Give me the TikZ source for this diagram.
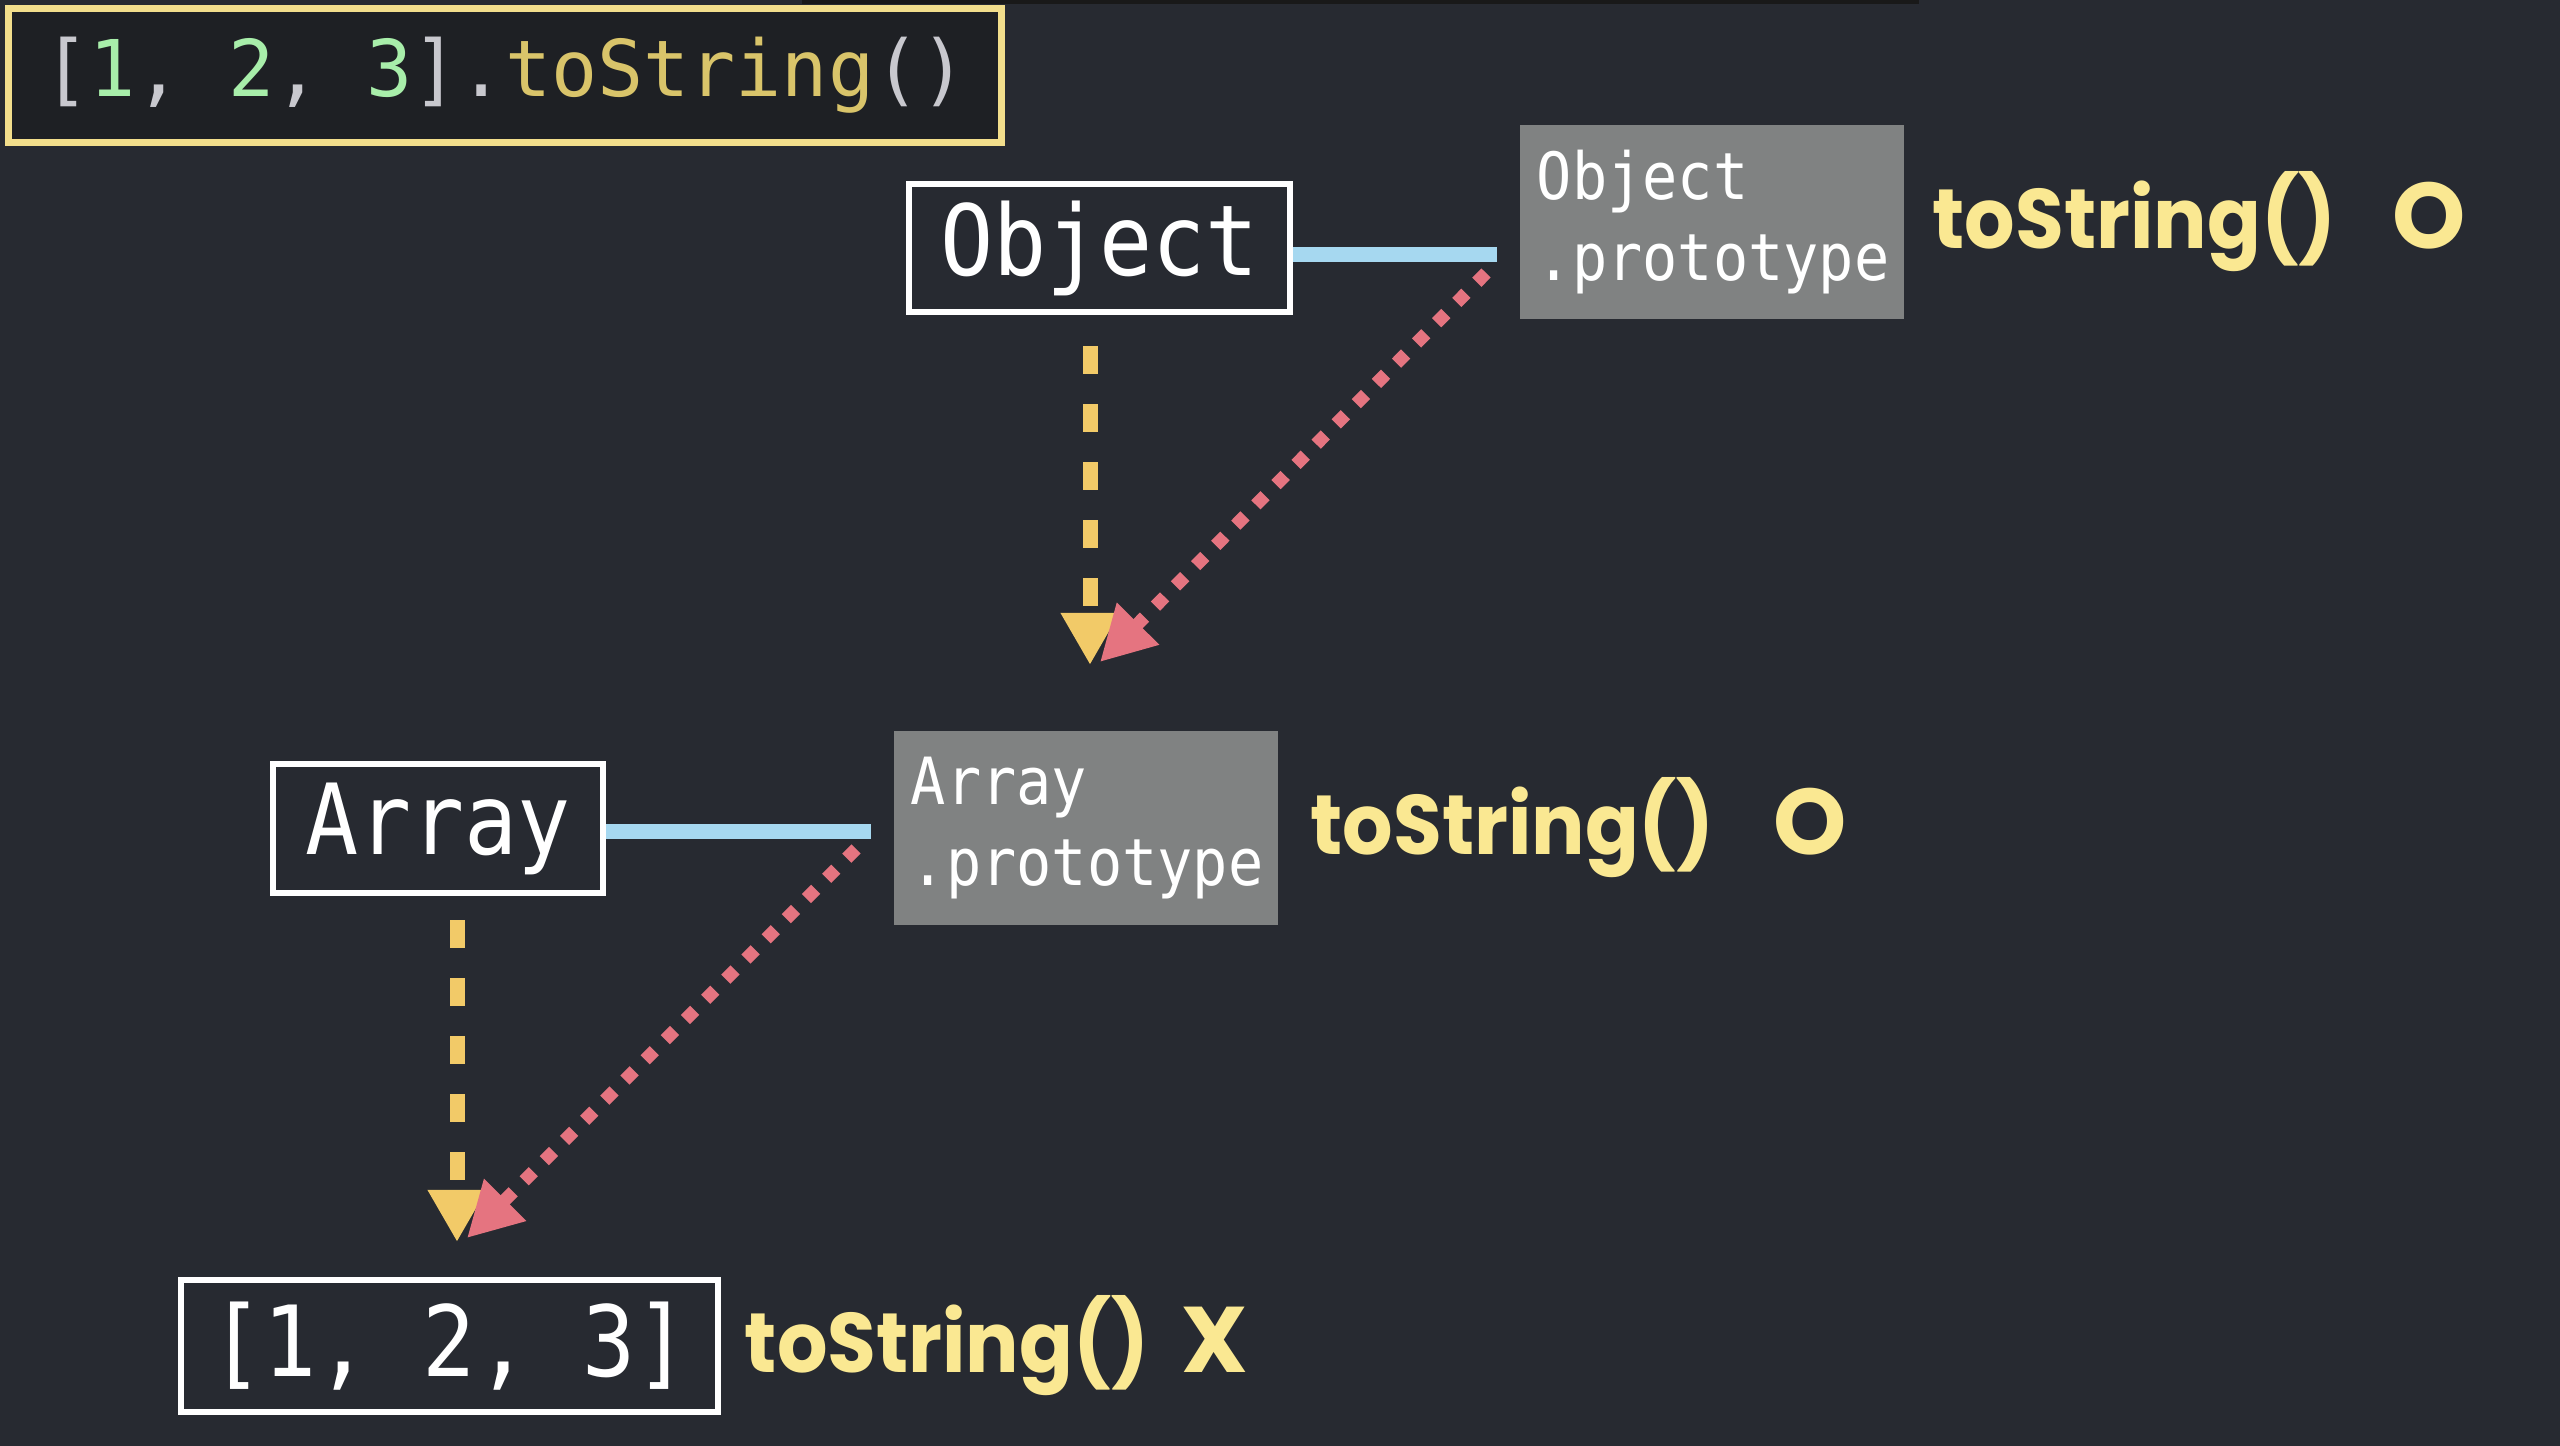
\documentclass[tikz,border=0pt]{standalone}
\usepackage{fontspec}
\newfontfamily\methfont[FakeStretch=0.94]{Poppins}
\newfontfamily\verdictfont{Poppins}
\newfontfamily\codefont[FakeStretch=0.98]{DejaVu Sans Mono}
\newfontfamily\boxfont[FakeStretch=0.9]{DejaVu Sans Mono}
\usetikzlibrary{arrows.meta, calc, positioning}
\definecolor{bgcol}{RGB}{39,42,49}
\definecolor{codebg}{RGB}{30,32,36}
\definecolor{codeframe}{RGB}{242,222,140}
\definecolor{codegray}{RGB}{200,200,206}
\definecolor{codegreen}{RGB}{168,238,170}
\definecolor{codetan}{RGB}{217,196,106}
\definecolor{protogray}{RGB}{128,130,130}
\definecolor{linkblue}{RGB}{166,216,240}
\definecolor{arrowyellow}{RGB}{242,202,104}
\definecolor{lookupred}{RGB}{229,116,128}
\definecolor{methyellow}{RGB}{250,232,146}
\tikzset{
  ctorbox/.style={draw=white, line width=0.06cm, fill=bgcol, text=white, inner sep=0,
    font=\boxfont\fontsize{27.9}{30}\selectfont},
  protobox/.style={fill=protogray, text=white, align=left, text width=3.5cm,
    inner xsep=0.17cm, inner ysep=0, minimum height=1.93cm,
    font=\boxfont\fontsize{18.5}{22.8}\selectfont},
  method/.style={text=methyellow, inner sep=0, font=\methfont\bfseries\fontsize{24}{28}\selectfont},
  verdict/.style={text=methyellow, inner sep=0, font=\verdictfont\bfseries\fontsize{26.5}{28}\selectfont},
  link/.style={linkblue, line width=0.15cm, shorten >=0.22cm},
  inherit/.style={-{Triangle[length=0.52cm, width=0.55cm]}, arrowyellow, line width=0.15cm,
    dash pattern=on 0.28cm off 0.30cm},
  lookup/.style={-{Triangle[length=0.54cm, width=0.56cm]}, lookupred, line width=0.13cm,
    dash pattern=on 0.13cm off 0.155cm}
}

\begin{document}
\begin{tikzpicture}[x=0.01cm, y=-0.01cm]
  \fill[bgcol] (0,0) rectangle (2560,1446);
  \useasboundingbox (0,0) rectangle (2560,1446);
  \fill[black!90] (802,0) rectangle (1919,4);

  % the call
  \node[draw=codeframe, line width=0.07cm, fill=codebg, minimum width=9.93cm, minimum height=1.34cm,
    font=\codefont\fontsize{22.25}{26}\selectfont] (call) at (505,75.5)
    {\color{codegray}[\color{codegreen}1\color{codegray}, \color{codegreen}2\color{codegray}, \color{codegreen}3\color{codegray}].\color{codetan}toString\color{codegray}()};

  % Object
  \node[ctorbox, minimum width=3.81cm, minimum height=1.28cm] (objbox) at (1099.5,248) {Object};
  \node[protobox] (objproto) at (1712,222) {Object\\.prototype};
  \coordinate (objlink) at ($(objbox.east)+(0,7)$);
  \draw[link] (objlink) -- (objlink -| objproto.west);
  \node[method, right=0.27cm of objproto] (objmeth) {toString()};
  \node[verdict, base right=0.54cm of objmeth] (objok) {O};

  % Array
  \node[ctorbox, minimum width=3.30cm, minimum height=1.29cm] (arrbox) at (438,828.5) {Array};
  \node[protobox] (arrproto) at (1086,828) {Array\\.prototype};
  \coordinate (arrlink) at ($(arrbox.east)+(0,3)$);
  \draw[link] (arrlink) -- (arrlink -| arrproto.west);
  \node[method, right=0.31cm of arrproto] (arrmeth) {toString()};
  \node[verdict, base right=0.57cm of arrmeth] (arrok) {O};

  % [1, 2, 3]
  \node[ctorbox, minimum width=5.37cm, minimum height=1.32cm] (litbox) at (449.5,1346) {[1, 2, 3]};
  \node[method, right=0.23cm of litbox] (litmeth) {toString()};
  \node[verdict, base right=0.31cm of litmeth] (litno) {X};

  % prototype chain
  \coordinate (objtip) at (1090,665);
  \coordinate (objfrom) at (1486,273);
  \coordinate (objhit) at (1100,662);
  \draw[inherit, shorten <=0.31cm] (objbox.south -| objtip) -- (objtip);
  \draw[lookup] (objfrom) -- (objhit);

  \coordinate (arrtip) at (457,1242);
  \coordinate (arrfrom) at (856,849);
  \coordinate (arrhit) at (467,1238);
  \draw[inherit, shorten <=0.24cm] (arrbox.south -| arrtip) -- (arrtip);
  \draw[lookup] (arrfrom) -- (arrhit);
\end{tikzpicture}
\end{document}
